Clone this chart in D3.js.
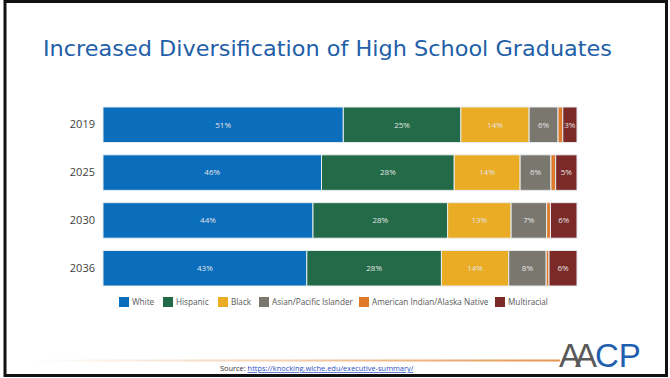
<!DOCTYPE html>
<html>
<head>
<meta charset="utf-8">
<script src="https://cdnjs.cloudflare.com/ajax/libs/d3/7.8.5/d3.min.js"></script>
<style>
  body { margin: 0; background: #fff; }
  svg { display: block; }
</style>
</head>
<body>
<div id="viz"></div>
<script>
//-------Data-----------
var years = ["2019", "2025", "2030", "2036"];
var groups = ["White", "Hispanic", "Black", "Asian/Pacific Islander", "American Indian/Alaska Native", "Multiracial"];
var white = [50.7, 46.1, 44.3, 43.0];
var hispanic = [24.8, 28.0, 28.4, 28.4];
var black = [14.4, 13.9, 13.4, 14.2];
var asian = [6.1, 6.5, 7.5, 7.9];
var aian = [1.0, 1.0, 0.8, 0.6];
var multi = [3.0, 4.5, 5.6, 5.9];
var labels = [
  ["51%", "25%", "14%", "6%", "", "3%"],
  ["46%", "28%", "14%", "6%", "", "5%"],
  ["44%", "28%", "13%", "7%", "", "6%"],
  ["43%", "28%", "14%", "8%", "", "6%"]
];
var colors = ["#0a6ebd", "#236b48", "#e9ac24", "#7a776f", "#df7a2a", "#7b2a28"];

//---------------------------------
var width = 670,
    height = 378;

var svg = d3.select("#viz")
  .append("svg")
    .attr("width", width)
    .attr("height", height);

// slide frame
svg.append("rect")
    .attr("x", 5)
    .attr("y", 1.5)
    .attr("width", 661.5)
    .attr("height", 374)
    .style("fill", "#fff")
    .style("stroke", "#111")
    .style("stroke-width", "3px");

svg.append("text")
    .attr("x", 43)
    .attr("y", 56)
    .attr("textLength", 569)
    .attr("lengthAdjust", "spacingAndGlyphs")
    .style("font-family", "'DejaVu Sans', sans-serif")
    .style("font-size", "21px")
    .style("fill", "#1f60a8")
    .text("Increased Diversification of High School Graduates");

//------Scales-----------
var rows = years.map(function(y, i) {
  return { year: y, values: [white[i], hispanic[i], black[i], asian[i], aian[i], multi[i]], labels: labels[i] };
});

var xScale = d3.scaleLinear().domain([0, 100]).range([103, 577]);
var yScale = d3.scaleBand().domain(years).range([107, 286]).paddingInner(0.257).paddingOuter(0);

var stackData = d3.stack().keys(d3.range(groups.length))
  (rows.map(function(r) { return r.values; }));

var yAxis = d3.axisLeft(yScale).tickSize(0).tickPadding(8);
var gY = svg.append("g")
    .attr("transform", "translate(" + 103 + ",0)")
    .call(yAxis);
gY.select(".domain").remove();
gY.selectAll("text")
    .style("font-family", "'Open Sans', sans-serif")
    .style("font-size", "11px")
    .style("fill", "#404040");

//------Bars--------------------
var layers = svg.append("g").selectAll("g")
  .data(stackData)
  .enter().append("g")
    .style("fill", function(d, i) { return colors[i]; });

layers.selectAll("rect")
  .data(function(d) { return d; })
  .enter().append("rect")
    .attr("x", function(d) { return xScale(d[0]); })
    .attr("y", function(d, j) { return yScale(years[j]); })
    .attr("width", function(d) { return xScale(d[1]) - xScale(d[0]); })
    .attr("height", yScale.bandwidth())
    .style("stroke", "#e8ecef")
    .style("stroke-width", "1px");

layers.each(function(layer, k) {
  d3.select(this).selectAll("text")
    .data(layer)
    .enter().append("text")
      .attr("x", function(d) { return (xScale(d[0]) + xScale(d[1])) / 2; })
      .attr("y", function(d, j) { return yScale(years[j]) + yScale.bandwidth() / 2; })
      .attr("dy", "0.35em")
      .attr("text-anchor", "middle")
      .style("font-family", "'Open Sans', sans-serif")
      .style("font-size", "8px")
      .style("fill", "#e4e4e4")
      .text(function(d, j) { return rows[j].labels[k]; });
});

//------Legend--------------------
var legendX = [119, 163, 218, 259, 359, 495];
var legend = svg.append("g").selectAll("g")
  .data(groups)
  .enter().append("g")
    .attr("transform", function(d, i) { return "translate(" + legendX[i] + ",297)"; });
legend.append("rect")
    .attr("width", 10)
    .attr("height", 10)
    .style("fill", function(d, i) { return colors[i]; });
legend.append("text")
    .attr("x", 13)
    .attr("y", 5)
    .attr("dy", "0.35em")
    .style("font-family", "'Open Sans', sans-serif")
    .style("font-size", "8.2px")
    .style("fill", "#595959")
    .text(function(d) { return d; });

//------Footer--------------------
var grad = svg.append("defs").append("linearGradient")
    .attr("id", "fade")
    .attr("x1", "0%").attr("x2", "100%");
grad.append("stop").attr("offset", "0%").attr("stop-color", "#e8a060").attr("stop-opacity", 0);
grad.append("stop").attr("offset", "100%").attr("stop-color", "#e49550").attr("stop-opacity", 1);

svg.append("rect")
    .attr("x", 30)
    .attr("y", 359.5)
    .attr("width", 530)
    .attr("height", 2)
    .style("fill", "url(#fade)");

var src = svg.append("text")
    .attr("x", 220)
    .attr("y", 371)
    .style("font-family", "'Open Sans', sans-serif")
    .style("font-size", "7.4px");
src.append("tspan").style("fill", "#333").text("Source: ");
src.append("tspan")
    .style("fill", "#2b4fc4")
    .style("text-decoration", "underline")
    .text("https://knocking.wiche.edu/executive-summary/");

var logo = svg.append("text")
    .attr("x", 559)
    .attr("y", 367)
    .style("font-family", "'Liberation Sans', sans-serif")
    .style("font-size", "33px");
logo.append("tspan").style("fill", "#5a5a5a").attr("letter-spacing", "-6").text("AA");
logo.append("tspan").attr("dx", 4).style("fill", "#1f5fb0").text("CP");
</script>
</body>
</html>
